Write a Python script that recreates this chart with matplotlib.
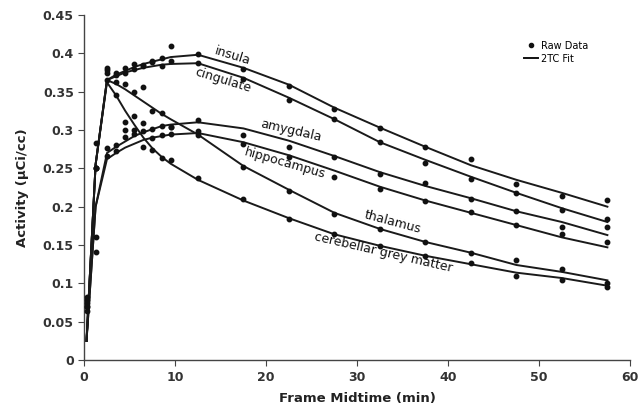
import numpy as np
import matplotlib
matplotlib.use("Agg")
from matplotlib import pyplot as plt
from matplotlib.lines import Line2D

# frame midtimes (min)
t = [0.25, 1.25, 2.5, 3.5, 4.5, 5.5, 6.5, 7.5, 8.5, 9.5,
     12.5, 17.5, 22.5, 27.5, 32.5, 37.5, 42.5, 47.5, 52.5, 57.5]

# raw data (uCi/cc)
insula_raw = [0.082, 0.283, 0.381, 0.374, 0.381, 0.386, 0.385, 0.390, 0.394, 0.410,
              0.399, 0.380, 0.357, 0.327, 0.302, 0.278, 0.262, 0.230, 0.214, 0.209]
cingulate_raw = [0.074, 0.250, 0.378, 0.372, 0.374, 0.380, 0.383, 0.388, 0.383, 0.390,
                 0.387, 0.366, 0.339, 0.314, 0.284, 0.257, 0.236, 0.218, 0.196, 0.184]
amygdala_raw = [0.069, 0.160, 0.276, 0.280, 0.300, 0.300, 0.309, 0.301, 0.305, 0.304,
                0.313, 0.293, 0.278, 0.265, 0.242, 0.231, 0.210, 0.194, 0.173, 0.174]
hippocampus_raw = [0.064, 0.141, 0.266, 0.272, 0.291, 0.295, 0.298, 0.290, 0.293, 0.295,
                   0.298, 0.282, 0.265, 0.239, 0.223, 0.207, 0.193, 0.176, 0.164, 0.154]
thalamus_raw = [0.078, 0.250, 0.374, 0.362, 0.360, 0.350, 0.356, 0.325, 0.322, 0.304,
                0.293, 0.252, 0.220, 0.190, 0.171, 0.154, 0.139, 0.130, 0.119, 0.100]
cerebellar_raw = [0.070, 0.250, 0.365, 0.346, 0.310, 0.318, 0.278, 0.274, 0.263, 0.261,
                  0.237, 0.210, 0.184, 0.164, 0.149, 0.136, 0.126, 0.110, 0.104, 0.095]

# 2TC fits at the same times
insula_fit = [0.025, 0.255, 0.365, 0.372, 0.377, 0.382, 0.386, 0.389, 0.392, 0.395,
              0.398, 0.381, 0.359, 0.329, 0.303, 0.278, 0.254, 0.235, 0.218, 0.200]
cingulate_fit = [0.025, 0.255, 0.365, 0.370, 0.375, 0.378, 0.381, 0.383, 0.385, 0.386,
                 0.387, 0.368, 0.342, 0.314, 0.284, 0.261, 0.239, 0.218, 0.198, 0.180]
amygdala_fit = [0.025, 0.200, 0.270, 0.278, 0.285, 0.292, 0.297, 0.301, 0.305, 0.307,
                0.310, 0.302, 0.286, 0.266, 0.245, 0.227, 0.211, 0.194, 0.180, 0.163]
hippocampus_fit = [0.025, 0.200, 0.262, 0.270, 0.277, 0.282, 0.287, 0.290, 0.292, 0.294,
                   0.296, 0.284, 0.267, 0.247, 0.226, 0.208, 0.192, 0.176, 0.160, 0.147]
thalamus_fit = [0.025, 0.255, 0.365, 0.360, 0.353, 0.345, 0.337, 0.329, 0.321, 0.314,
                0.294, 0.253, 0.222, 0.192, 0.171, 0.154, 0.140, 0.124, 0.115, 0.104]
cerebellar_fit = [0.025, 0.255, 0.362, 0.345, 0.325, 0.307, 0.290, 0.276, 0.265, 0.256,
                  0.235, 0.208, 0.185, 0.164, 0.149, 0.136, 0.125, 0.114, 0.107, 0.097]

regions = ["insula", "cingulate", "amygdala", "hippocampus", "thalamus", "cerebellar grey matter"]
raws = [insula_raw, cingulate_raw, amygdala_raw, hippocampus_raw, thalamus_raw, cerebellar_raw]
fits = [insula_fit, cingulate_fit, amygdala_fit, hippocampus_fit, thalamus_fit, cerebellar_fit]

# label placement (data coords) and rotation
label_pos = [(16.3, 0.396, -17), (15.2, 0.365, -17), (22.7, 0.299, -13),
             (22.1, 0.257, -16), (33.9, 0.180, -15), (32.9, 0.140, -13)]

fig = plt.figure(figsize=(6.43, 4.13), dpi=100)
ax = fig.add_axes([0.131, 0.128, 0.849, 0.836])

for raw, fit in zip(raws, fits):
    ax.plot(t, fit, color="#1a1a1a", lw=1.4, zorder=2)
    ax.plot(t, raw, "o", color="#111111", ms=3.2, zorder=3)

for name, (x, y, rot) in zip(regions, label_pos):
    ax.text(x, y, name, rotation=rot, ha="center", va="center",
            fontsize=9, color="#111111", rotation_mode="anchor")

ax.set_xlim(0, 60)
ax.set_ylim(0, 0.45)
ax.set_xticks(np.arange(0, 61, 10))
ax.set_yticks(np.arange(0, 0.451, 0.05))
ax.set_yticklabels(["0", "0.05", "0.1", "0.15", "0.2", "0.25", "0.3", "0.35", "0.4", "0.45"])
ax.spines["top"].set_visible(False)
ax.spines["right"].set_visible(False)
for s in ["left", "bottom"]:
    ax.spines[s].set_color("#444444")
    ax.spines[s].set_linewidth(1.0)
ax.tick_params(direction="out", length=4, color="#444444", labelsize=9,
               labelcolor="#333333")
for lab in ax.get_xticklabels() + ax.get_yticklabels():
    lab.set_fontweight("bold")

ax.set_xlabel("Frame Midtime (min)", fontsize=9.5, fontweight="bold", color="#222222", labelpad=6)
ax.set_ylabel("Activity (\u03bcCi/cc)", fontsize=9.5, fontweight="bold", color="#222222", labelpad=10)

handles = [Line2D([], [], ls="none", marker="o", color="#111111", ms=3),
           Line2D([], [], color="#111111", lw=1.4)]
ax.legend(handles, ["Raw Data", "2TC Fit"], loc="upper right", bbox_to_anchor=(0.94, 0.95),
          frameon=False, fontsize=7, handlelength=1.5, handletextpad=0.3, labelspacing=0.3)

fig.savefig("out.png", dpi=100)
